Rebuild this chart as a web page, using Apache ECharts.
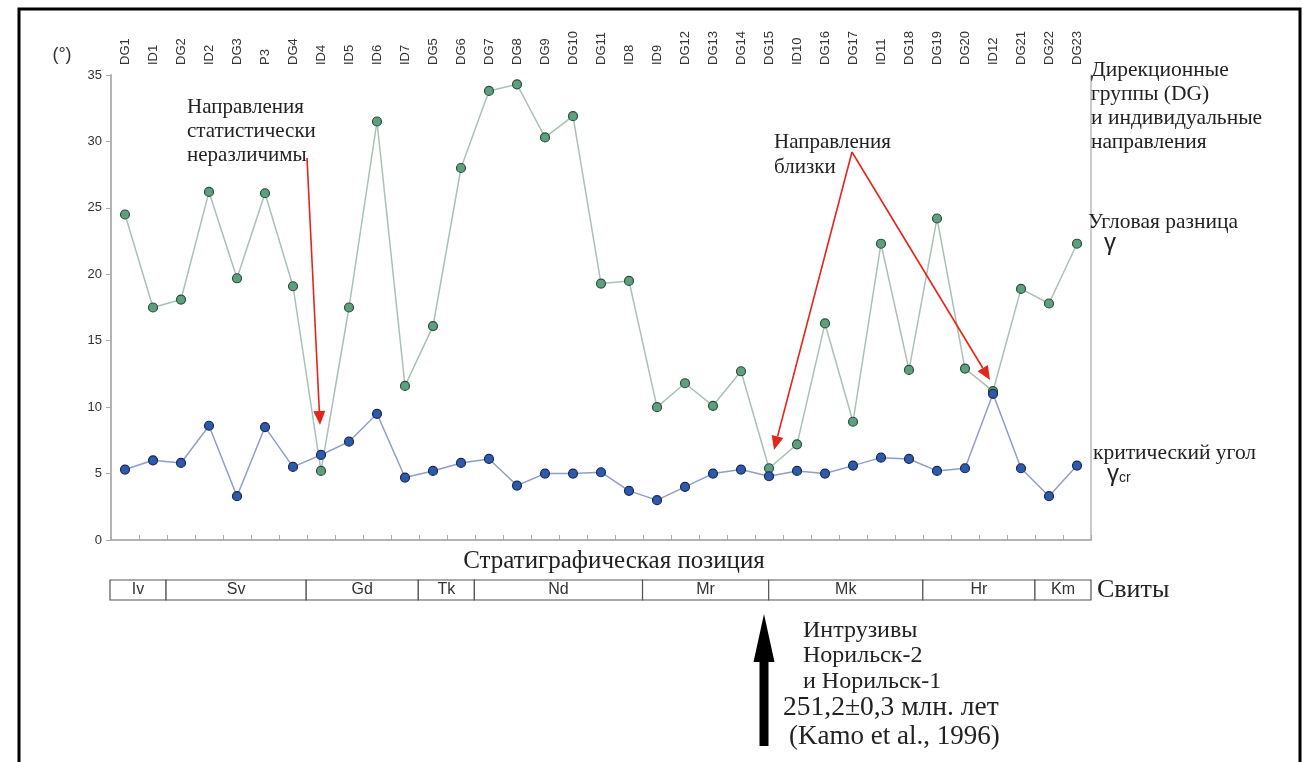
<!DOCTYPE html>
<html><head><meta charset="utf-8">
<script src="https://cdn.jsdelivr.net/npm/echarts@6/dist/echarts.min.js"></script>
<style>html,body{margin:0;padding:0;background:#fff}#c{width:1303px;height:762px}</style>
</head><body><div id="c"></div>
<script>
var categories = ['DG1','ID1','DG2','ID2','DG3','P3','DG4','ID4','ID5','ID6','ID7','DG5','DG6','DG7','DG8','DG9','DG10','DG11','ID8','ID9','DG12','DG13','DG14','DG15','ID10','DG16','DG17','ID11','DG18','DG19','DG20','ID12','DG21','DG22','DG23'];
var gamma = [24.5,17.5,18.1,26.2,19.7,26.1,19.1,5.2,17.5,31.5,11.6,16.1,28.0,33.8,34.3,30.3,31.9,19.3,19.5,10.0,11.8,10.1,12.7,5.4,7.2,16.3,8.9,22.3,12.8,24.2,12.9,11.2,18.9,17.8,22.3];
var gammaCr = [5.3,6.0,5.8,8.6,3.3,8.5,5.5,6.4,7.4,9.5,4.7,5.2,5.8,6.1,4.1,5.0,5.0,5.1,3.7,3.0,4.0,5.0,5.3,4.8,5.2,5.0,5.6,6.2,6.1,5.2,5.4,11.0,5.4,3.3,5.6];
var yTicks = [0,5,10,15,20,25,30,35];
var formNames = ['Iv','Sv','Gd','Tk','Nd','Mr','Mk','Hr','Km'];
var formStart = [0,2,7,11,13,19,23.5,29,33];
var formEnd = [2,7,11,13,19,23.5,29,33,35];

var SERIF = '"Liberation Serif","Times New Roman",serif';
var SANS = 'Arial,"Liberation Sans",sans-serif';

function txt(text, x, y, size, opts){
  opts = opts || {};
  return {type:'text', z:100, style:{text:text, x:x, y:y, font: (opts.weight||'normal')+' '+size+'px '+(opts.family||SERIF),
    fill: opts.fill||'#222', textAlign: opts.align||'left', align: opts.align||'left',
    textVerticalAlign: opts.va||'middle', verticalAlign: opts.va||'middle', lineHeight: opts.lh||size}};
}
function arrow(x1,y1,x2,y2,color){
  var dx=x2-x1, dy=y2-y1, L=Math.sqrt(dx*dx+dy*dy), ux=dx/L, uy=dy/L;
  var hl=14, hw=6;
  var bx=x2-ux*hl, by=y2-uy*hl;
  return [
    {type:'line', z:90, shape:{x1:x1,y1:y1,x2:bx,y2:by}, style:{stroke:color, lineWidth:1.6}},
    {type:'polygon', z:90, shape:{points:[[x2,y2],[bx-uy*hw,by+ux*hw],[bx+uy*hw,by-ux*hw]]}, style:{fill:color}}
  ];
}

var formData = formNames.map(function(n,i){return [formStart[i], formEnd[i], n];});

var graphics = [
  {type:'rect', z:1, shape:{x:19, y:9, width:1281, height:780}, style:{fill:'none', stroke:'#000', lineWidth:3}},
  txt('(°)', 62, 55, 18, {family:SANS, align:'center', fill:'#333'}),
  txt('Направления\nстатистически\nнеразличимы', 187, 95, 21, {va:'top', lh:24}),
  txt('Направления\nблизки', 774, 130, 21, {va:'top', lh:25}),
  txt('Дирекционные\nгруппы (DG)\nи индивидуальные\nнаправления', 1091, 58, 21.5, {va:'top', lh:24}),
  txt('Угловая разница', 1088, 222, 21.5),
  txt('γ', 1104, 243, 24, {family:SANS}),
  txt('критический угол', 1093, 453, 21.5),
  {type:'text', z:100, style:{text:'{g|γ}{s|cr}', x:1107, y:474, textVerticalAlign:'middle', verticalAlign:'middle',
    rich:{g:{font:'normal 24px '+SANS, fill:'#222'}, s:{font:'normal 14px '+SANS, fill:'#222', padding:[8,0,0,0]}}}},
  txt('Стратиграфическая позиция', 614, 561, 25, {align:'center'}),
  txt('Свиты', 1097, 590, 26),
  txt('Интрузивы', 803, 631, 24),
  txt('Норильск-2', 803, 656, 24),
  txt('и Норильск-1', 803, 682, 24),
  txt('251,2±0,3 млн. лет', 783, 708, 27.5),
  txt('(Kamo et al., 1996)', 789, 737, 27),
  {type:'polygon', z:90, shape:{points:[[764,614],[774.5,662],[768.5,662],[768.5,746],[759.5,746],[759.5,662],[753.5,662]]}, style:{fill:'#000'}}
];
graphics = graphics.concat(arrow(307,158,320,425,'#e3261c'));
graphics = graphics.concat(arrow(852,152,774,450,'#e3261c'));
graphics = graphics.concat(arrow(852,152,990,380,'#e3261c'));

var option = {
  backgroundColor:'#fff',
  animation:false,
  grid:[
    {left:111, right:212, top:75, height:465, show:false},
    {left:110, right:212, top:580, height:20, show:false}
  ],
  xAxis:[
    {type:'category', gridIndex:0, data:categories, position:'top', boundaryGap:true,
      axisLine:{show:true, lineStyle:{color:'#b4b4b4', width:2}}, axisTick:{show:false},
      axisLabel:{rotate:90, interval:0, fontSize:13, color:'#333', fontFamily:SANS, margin:10}, splitLine:{show:false}},
    {type:'category', gridIndex:0, data:categories, position:'bottom', boundaryGap:true,
      axisLine:{show:true, lineStyle:{color:'#b4b4b4', width:2}}, axisTick:{show:true, inside:true, length:5, interval:0, lineStyle:{color:'#aaa'}},
      axisLabel:{show:false}, splitLine:{show:false}},
    {type:'value', gridIndex:1, min:0, max:35, show:false}
  ],
  yAxis:[
    {type:'value', gridIndex:0, min:0, max:35, interval:5,
      axisLine:{show:true, lineStyle:{color:'#b4b4b4', width:2}}, axisTick:{show:true, length:5, lineStyle:{color:'#aaa'}},
      axisLabel:{fontSize:13, color:'#333', fontFamily:SANS, margin:9, formatter:function(v){return yTicks.indexOf(v)>=0?String(v):'';}},
      splitLine:{show:false}},
    {type:'value', gridIndex:0, min:0, max:35, position:'right',
      axisLine:{show:true, lineStyle:{color:'#b8b8b8', width:1.5}}, axisTick:{show:false}, axisLabel:{show:false}, splitLine:{show:false}},
    {type:'value', gridIndex:1, min:0, max:1, show:false}
  ],
  series:[
    {type:'line', name:'gamma', xAxisIndex:0, yAxisIndex:0, data:gamma, symbol:'circle', symbolSize:9,
      lineStyle:{color:'#a8c2b3', width:1.5}, itemStyle:{color:'#5e9f7f', borderColor:'#2b4f3e', borderWidth:1.2}, z:3},
    {type:'line', name:'gammaCr', xAxisIndex:0, yAxisIndex:0, data:gammaCr, symbol:'circle', symbolSize:9,
      lineStyle:{color:'#8e9ecb', width:1.5}, itemStyle:{color:'#2d5aa9', borderColor:'#18295a', borderWidth:1.2}, z:4},
    {type:'custom', xAxisIndex:2, yAxisIndex:2, data:formData,
      renderItem:function(params, api){
        var p0 = api.coord([api.value(0), 1]);
        var p1 = api.coord([api.value(1), 0]);
        return {type:'rect', shape:{x:p0[0], y:p0[1], width:p1[0]-p0[0], height:p1[1]-p0[1]},
          style:{fill:'#fff', stroke:'#555', lineWidth:1.2},
          textContent:{style:{text:formNames[params.dataIndex], fill:'#333', font:'normal 16px '+SANS}},
          textConfig:{position:'inside'}};
      }}
  ],
  graphic:graphics
};
var chart = echarts.init(document.getElementById('c'));
chart.setOption(option);
</script>
</body></html>
